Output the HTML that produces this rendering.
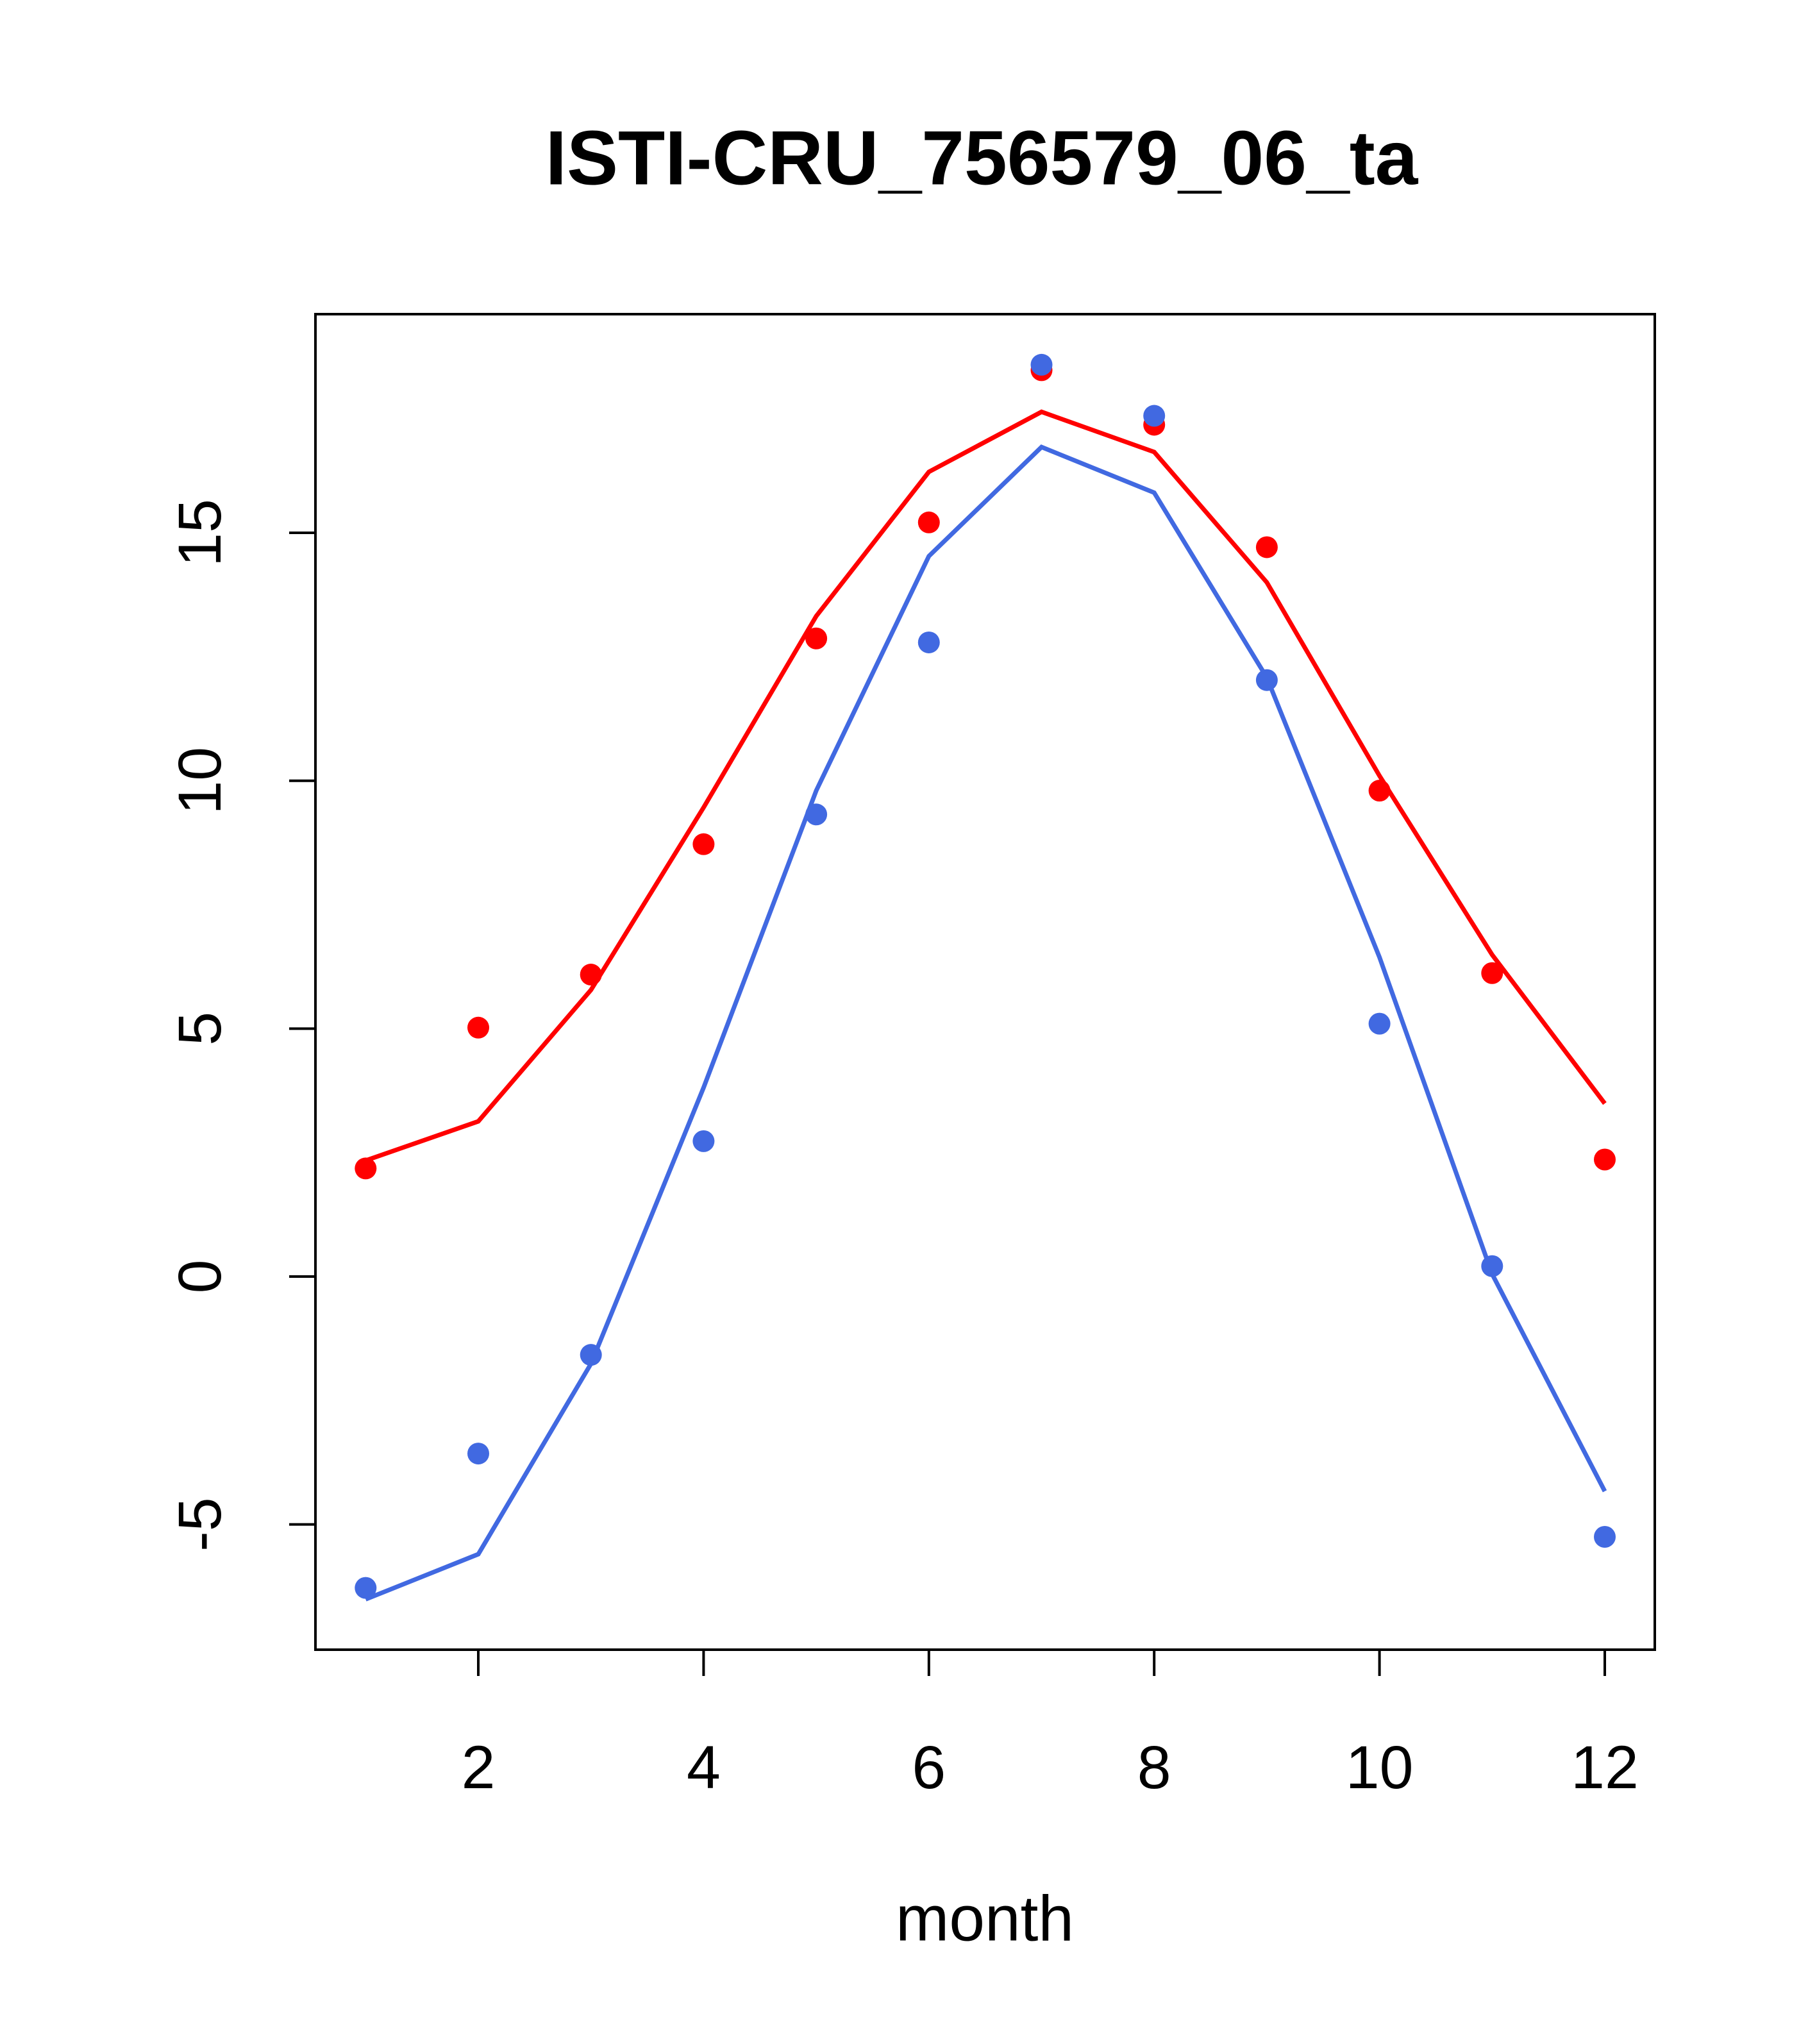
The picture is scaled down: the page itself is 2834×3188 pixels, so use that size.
<!DOCTYPE html>
<html><head><meta charset="utf-8"><style>
html,body{margin:0;padding:0;background:#fff;}
svg{display:block;font-family:"Liberation Sans",sans-serif;}
</style></head><body>
<svg id="chart" width="2834" height="3188" viewBox="0 0 2834 3188" xmlns="http://www.w3.org/2000/svg">
<text x="1531" y="256" font-size="120" font-weight="bold" text-anchor="middle" dominant-baseline="middle">ISTI-CRU_756579_06_ta</text>
<rect x="492" y="490" width="2089" height="2083" fill="none" stroke="#000" stroke-width="4"/>
<g id="axes"></g>
<g id="series"></g>
<text x="1536" y="3000" font-size="100" text-anchor="middle" dominant-baseline="middle">month</text>
</svg>
<script>
const months = [1,2,3,4,5,6,7,8,9,10,11,12];
const redPoints = [2.18,5.02,6.09,8.72,12.87,15.21,18.28,17.18,14.71,9.80,6.12,2.36];
const redLine = [2.34,3.13,5.78,9.46,13.32,16.23,17.44,16.63,14.0,10.1,6.49,3.49];
const bluePoints = [-6.28,-3.57,-1.58,2.73,9.32,12.79,18.39,17.36,12.03,5.10,0.21,-5.25];
const blueLine = [-6.51,-5.6,-1.76,3.81,9.8,14.53,16.73,15.81,12.08,6.44,0.05,-4.33];
const xTicks = [2,4,6,8,10,12];
const yTicks = [-5,0,5,10,15];

const NS="http://www.w3.org/2000/svg";
function xs(v){return 746+(v-2)*175.7;}
function ys(v){return 1991-v*77.33;}
function mk(tag,attrs,parent){const e=document.createElementNS(NS,tag);for(const k in attrs)e.setAttribute(k,attrs[k]);parent.appendChild(e);return e;}
const axes=document.getElementById('axes');
const series=document.getElementById('series');
xTicks.forEach(t=>{
  const l=mk('line',{x1:xs(t),x2:xs(t),y1:2573,y2:2614,stroke:'#000','stroke-width':4},axes);
  
  
  const tx=mk('text',{x:xs(t),y:2764,'font-size':95,'text-anchor':'middle','dominant-baseline':'middle'},axes);
  tx.textContent=t;
  
  
});
yTicks.forEach(t=>{
  const l=mk('line',{x1:451,x2:492,y1:ys(t),y2:ys(t),stroke:'#000','stroke-width':4},axes);
  
  
  const tx=mk('text',{x:319,y:ys(t),'font-size':95,'text-anchor':'middle','dominant-baseline':'middle',transform:`rotate(-90 319 ${ys(t)})`},axes);
  tx.textContent=t;
  
  
});
function drawLine(vals,color,name){
  const p=mk('polyline',{points:vals.map((v,i)=>xs(months[i])+','+ys(v)).join(' '),fill:'none',stroke:color,'stroke-width':7},series);
  
  
}
function drawPts(vals,color,name){
  vals.forEach((v,i)=>{
    const c=mk('circle',{cx:xs(months[i]),cy:ys(v),r:17,fill:color},series);
    
    
  });
}
drawLine(redLine,'#ff0000','red-line');
drawLine(blueLine,'#4169e1','blue-line');
drawPts(redPoints,'#ff0000','red-point');
drawPts(bluePoints,'#4169e1','blue-point');
</script>
</body></html>
